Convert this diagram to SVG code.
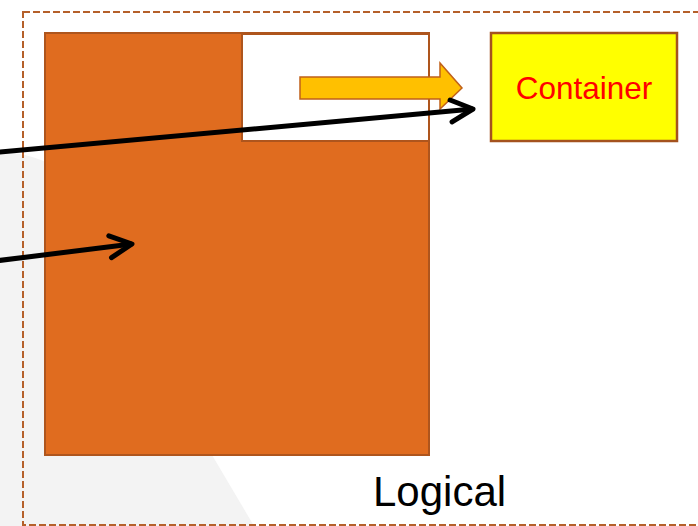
<svg xmlns="http://www.w3.org/2000/svg" width="698" height="526" viewBox="0 0 698 526">
  <style>
    .frame { fill: none; stroke: #B5602A; stroke-width: 2; stroke-dasharray: 7 3; }
    .box { stroke: #AE551D; stroke-width: 2; }
    .link { fill: none; stroke: #000; stroke-width: 5; }
    .label { font-family: "Liberation Sans", Arial, sans-serif; }
  </style>
  <defs>
    <marker id="chevron" markerUnits="userSpaceOnUse" viewBox="-30 -20 40 40" refX="0" refY="0" markerWidth="40" markerHeight="40" orient="auto" overflow="visible">
      <path d="M-22,-11 L0,0 L-22,11" fill="none" stroke="#000" stroke-width="5" stroke-linecap="round" stroke-linejoin="round"/>
    </marker>
  </defs>

  <rect width="698" height="526" fill="#fff"/>

  <!-- faint backdrop band -->
  <path d="M0,151 Q25,153 46,162 L212,455 L254,526 L0,526 Z" fill="#F3F3F3"/>

  <!-- dashed logical boundary -->
  <g id="logical">
    <rect class="frame" x="23" y="12" width="700" height="513"/>
    <text class="label" x="373" y="506" font-size="42" fill="#000">Logical</text>
  </g>

  <g id="host">
    <rect class="box" x="45" y="33" width="384" height="422" fill="#E06C1F"/>
  </g>

  <g id="slot">
    <rect class="box" x="242" y="34" width="187" height="107" fill="#fff"/>
  </g>

  <g id="container">
    <rect x="491" y="33" width="186" height="108" fill="#FFFF00" stroke="#A4521E" stroke-width="2.5"/>
    <text class="label" x="584" y="99" font-size="31.5" fill="#FF0000" text-anchor="middle">Container</text>
  </g>

  <g id="connectors">
    <!-- block arrow from slot to container -->
    <path d="M300,77 L440,77 L440,63 L462,88 L440,109 L440,99 L300,99 Z" fill="#FFC000" stroke="#C0601A" stroke-width="1.5"/>
    <line class="link" x1="-5" y1="152.5" x2="473" y2="109" marker-end="url(#chevron)"/>
    <line class="link" x1="-5" y1="261" x2="132" y2="244" marker-end="url(#chevron)"/>
  </g>
</svg>
